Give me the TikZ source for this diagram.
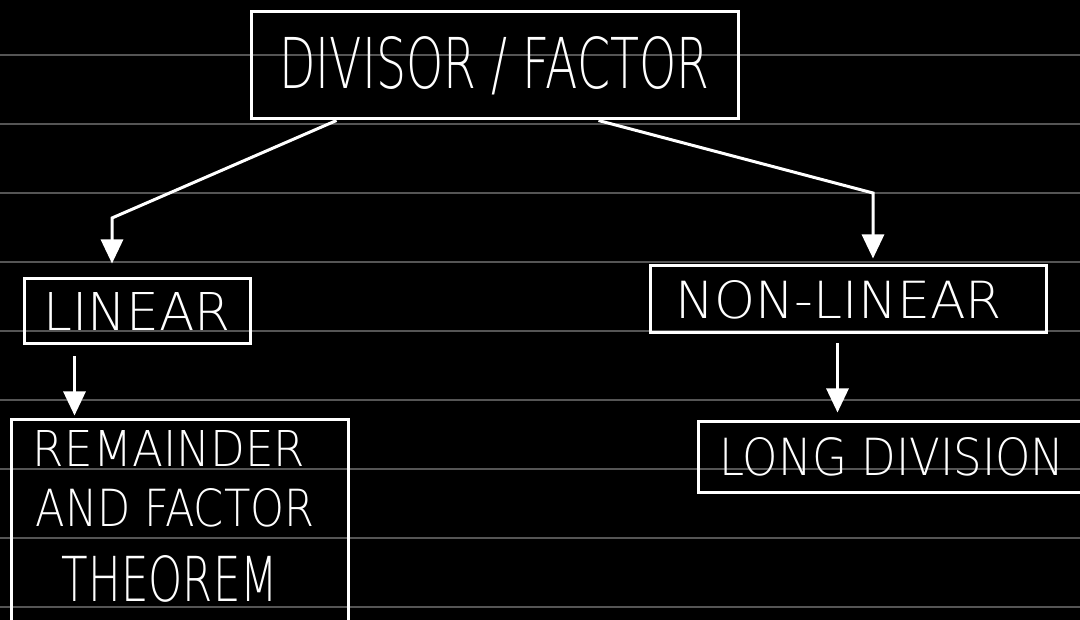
\documentclass[tikz,border=0pt]{standalone}
\usepackage{fontspec}
\setmainfont{DejaVu Sans ExtraLight}
\usetikzlibrary{arrows.meta,calc}
\newcommand{\fitto}[3]{\resizebox{#1pt}{#2pt}{#3}}
\tikzset{
  boxnode/.style={draw=white, line width=3pt, rectangle, inner sep=0pt, text=white},
  flow/.style={draw=white, line width=3pt, -{Triangle[width=22pt,length=24pt]}},
  ruled/.style={draw=rulegray, line width=1.5pt}
}
\definecolor{rulegray}{HTML}{555555}
\begin{document}
\begin{tikzpicture}[x=1pt,y=-1pt]
\fill[black] (0,0) rectangle (1080,620);
\useasboundingbox (0,0) rectangle (1080,620);
\clip (0,0) rectangle (1080,620);
\foreach \yy in {55,124,193,262,331,400,469,538,607}
  \draw[ruled] (0,\yy) -- (1080,\yy);
\node[boxnode, minimum width=487pt, minimum height=107pt] (top) at (494.5,65.5)
  {\fitto{430}{52}{DIVISOR / FACTOR}};
\node[boxnode, minimum width=226pt, minimum height=65pt] (linear) at (137,311.5)
  {\fitto{187}{38}{LINEAR}};
\node[boxnode, minimum width=396pt, minimum height=67pt] (nonlin) at (848,299.5)
  {\hspace*{-18pt}\fitto{326}{38}{NON-LINEAR}};
\node[boxnode, minimum width=337pt, minimum height=210pt, align=center, font=\fontsize{10}{10}\selectfont] (rem) at (179.5,525)
  {\hspace*{-21pt}\fitto{272}{36}{REMAINDER}\\[21pt]
   \hspace*{-9pt}\fitto{279}{38}{AND FACTOR}\\[28pt]
   \hspace*{-19pt}\fitto{216}{46}{THEOREM}\\[8pt]\mbox{}};
\node[boxnode, minimum width=402pt, minimum height=70pt] (long) at (899,457)
  {\hspace*{-14pt}\fitto{345}{38}{LONG DIVISION}};
\coordinate (c1) at (112,218);
\coordinate (c2) at (873,193);
\coordinate (s1) at ($(top.south west)+(87,0)$);
\coordinate (s2) at ($(top.south west)+(349,0)$);
\coordinate (s3) at ($(linear.south west)+(52,0)$);
\coordinate (s4) at ($(nonlin.south west)+(189,0)$);
\draw[flow, shorten >=14pt] (s1) -- (c1) -- (c1 |- linear.north);
\draw[flow, shorten >=6pt] (s2) -- (c2) -- (c2 |- nonlin.north);
\draw[flow, shorten <=11pt, shorten >=3pt] (s3) -- (s3 |- rem.north);
\draw[flow, shorten <=9pt, shorten >=8pt] (s4) -- (s4 |- long.north);
\end{tikzpicture}
\end{document}
